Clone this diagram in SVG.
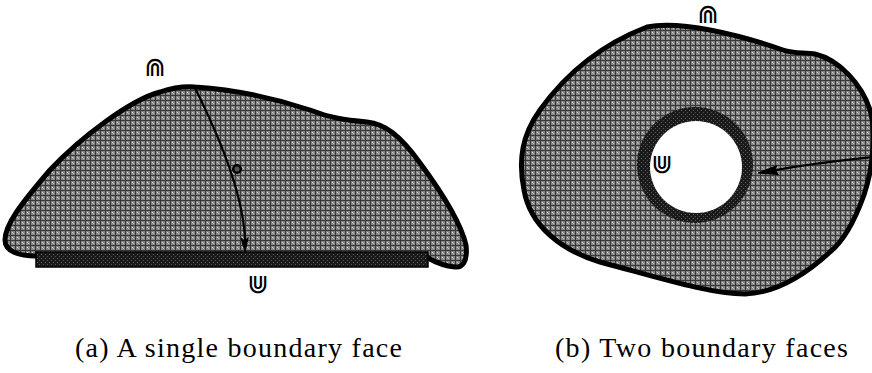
<svg xmlns="http://www.w3.org/2000/svg" width="872" height="373" viewBox="0 0 872 373">
<style>
.face{fill:url(#hatch);stroke:#000;stroke-width:5;stroke-linejoin:round}
.sym{font-family:"DejaVu Sans",sans-serif;font-size:26px;fill:#000;text-anchor:middle}
.cap{font-family:"Liberation Serif",serif;font-size:28px;fill:#000}
.arr{fill:none;stroke:#000;stroke-width:2.2;stroke-linecap:round}
.head{fill:#000;stroke:#000;stroke-width:1;stroke-linejoin:round}
</style>
<defs>
<pattern id="hatch" width="5" height="5" patternUnits="userSpaceOnUse" shape-rendering="crispEdges">
<rect width="5" height="5" fill="#858585"/>
<rect width="5" height="1" fill="#383838"/>
<rect width="1" height="5" fill="#383838"/>
<rect x="2" y="2" width="1" height="1" fill="#d8d8d8"/>
<rect x="3" y="3" width="1" height="1" fill="#bdbdbd"/>
</pattern>
<pattern id="darkhatch" width="4" height="4" patternUnits="userSpaceOnUse" shape-rendering="crispEdges">
<rect width="4" height="4" fill="#1a1a1a"/>
<rect x="1" y="2" width="1" height="1" fill="#666"/>
<rect x="3" y="0" width="1" height="1" fill="#555"/>
</pattern>
</defs>

<g id="face-a">
<path class="face" d="M 36 256 C 20 256, 5 252, 5 240 C 5 225, 20 205, 50 170 C 80 138, 130 100, 160 92 C 175 87, 185 86, 195 87 C 240 90, 280 100, 310 110 C 330 118, 345 120, 367 122 C 385 124, 400 135, 420 163 C 440 190, 460 220, 466 245 C 468 262, 462 268, 455 267 C 445 266, 435 262, 428 258 Z"/>
<rect x="36" y="252" width="392" height="15" fill="url(#darkhatch)" stroke="#000" stroke-width="1.5"/>
</g>

<g id="face-b">
<path class="face" d="M 647 27 C 680 20, 740 35, 783 50 C 795 54, 805 52, 815 54 C 840 60, 862 85, 870 110 C 876 130, 874 165, 864 195 C 855 220, 845 240, 830 252 C 805 275, 775 293, 745 294 C 710 294, 660 278, 600 262 C 560 250, 530 225, 524 190 C 518 160, 522 135, 540 110 C 565 75, 600 45, 647 27 Z"/>
<circle cx="695" cy="165" r="58" fill="url(#darkhatch)"/>
<circle cx="696" cy="167" r="46" fill="#fff"/>
</g>

<g id="labels">
<text class="sym" x="155" y="76">⋒</text>
<text class="sym" x="258" y="293">⋓</text>
<text class="sym" x="708" y="23">⋒</text>
<text class="sym" x="662" y="173">⋓</text>
</g>

<g id="connectors">
<path class="arr" d="M 195 88 Q 243 184 245 240"/>
<polygon class="head" points="245,252 248.2,237.5 244.6,241 241,238"/>
<circle cx="237" cy="169" r="3.8" fill="#555" stroke="#000" stroke-width="2.5"/>
<path class="arr" d="M 874 157 Q 815 163 770 171"/>
<polygon class="head" points="758,173 778.4,174.5 775,169.6 777,165.6"/>
</g>

<g id="captions">
<text class="cap" x="75" y="357" textLength="327" lengthAdjust="spacing">(a) A single boundary face</text>
<text class="cap" x="555" y="357" textLength="293" lengthAdjust="spacing">(b) Two boundary faces</text>
</g>
</svg>
